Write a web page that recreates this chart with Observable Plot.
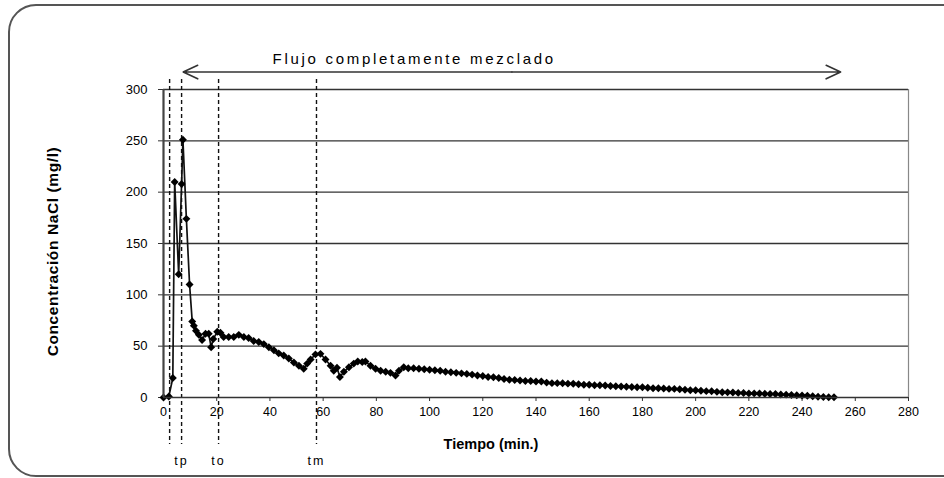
<!DOCTYPE html>
<html><head><meta charset="utf-8">
<script src="https://cdn.jsdelivr.net/npm/d3@7"></script>
<script src="https://cdn.jsdelivr.net/npm/@observablehq/plot@0.6"></script>
<style>
body{margin:0;background:#fff;}
#wrap{position:relative;width:944px;height:478px;overflow:hidden;background:#fff;}
#box{position:absolute;left:8px;top:4px;width:990px;height:473px;border:2px solid #555;border-radius:28px;pointer-events:none;box-sizing:border-box;}
</style></head><body>
<div id="wrap"><div id="chart"></div><div id="box"></div></div>
<script>
// Tiempo (min.)
const times = [0, 2, 3.5, 4.2, 5.7, 6.8, 7.3, 8.6, 9.8, 10.8, 11.4, 12.2, 13.3, 14.5, 15.8, 17, 17.9, 18.7, 20.2, 21.4,
  22.6, 24.5, 26.4, 28.3, 30.2, 32, 33.9, 35.8, 37.7, 39.6, 41.5, 43.3, 45.2, 47.1, 49, 50.9, 52.7, 54, 55.3, 57.1,
  59, 60.9, 62.8, 64, 65.2, 66.3, 67.8, 69.7, 71.5, 73, 74.7, 75.9, 77.8, 79.7, 81.6, 83.5, 85.3, 87.2, 88.5, 90.3,
  92, 94, 96, 98, 100, 102, 104, 106, 108, 110, 112, 114, 116, 118, 120, 122, 124, 126, 128, 130,
  132, 134, 136, 138, 140, 142, 144, 146, 148, 150, 152, 154, 156, 158, 160, 162, 164, 166, 168, 170,
  172, 174, 176, 178, 180, 182, 184, 186, 188, 190, 192, 194, 196, 198, 200, 202, 204, 206, 208, 210,
  212, 214, 216, 218, 220, 222, 224, 226, 228, 230, 232, 234, 236, 238, 240, 242, 244, 246, 248, 250, 252];
// Concentración NaCl (mg/l)
const conc = [0, 1, 19, 210, 120, 208, 251, 174, 110, 74, 70, 65, 61, 56, 62, 62, 49, 57, 64, 63,
  59, 59, 59, 61, 59, 58, 55, 54, 52, 49, 46, 43, 41, 38, 34, 31, 28, 33, 37, 42,
  42.5, 37, 31, 26, 29, 20, 25, 29.5, 33, 35, 34.5, 35, 31, 28, 26, 25, 24, 21.5, 26, 29.5,
  28.5, 28.5, 28, 27.5, 27, 26.5, 26, 25, 24.6, 24, 23.5, 23, 22.3, 21.5, 21, 20, 19.8, 19, 18, 17.3,
  17, 16.5, 16, 16, 15.5, 15.5, 14.5, 14, 14, 13.8, 13.5, 13.3, 13, 12.5, 12.5, 12, 12, 11.7, 11.3, 11,
  10.8, 10.5, 10.3, 10, 10, 9.5, 9, 9, 8.7, 8.4, 8.4, 8, 7.5, 7, 7, 6.5, 6.2, 6, 5.5, 5.2,
  5, 4.8, 4.5, 4.3, 4, 4, 3.8, 3.6, 3.5, 3.4, 3, 2.8, 2.5, 2.2, 2, 1.8, 1.3, 0.8, 0.5, 0.3, 0.3];

const xTicks = [0, 20, 40, 60, 80, 100, 120, 140, 160, 180, 200, 220, 240, 260, 280];
const yTicks = [0, 50, 100, 150, 200, 250, 300];
const markerTimes = [2.3, 6.8, 20.7, 57.5];
const markerLabels = ["", "tp", "to", "tm"];
const arrowRange = [7.4, 254.5];
const arrowLevel = [317];
const arrowText = "Flujo completamente mezclado";
const arrowTextStart = [41];
const arrowTextLevel = [330];
const xLabel = "Tiempo (min.)";
const yLabel = "Concentración NaCl (mg/l)";

const data = times.map((t, i) => ({t, c: conc[i]}));
const arrowMid = (arrowRange[0] + arrowRange[1]) / 2;

// square-ish diamond marker (like the spreadsheet marker)
const diamond = {
  draw(ctx, size) {
    const s = Math.sqrt(size) * 0.66;
    ctx.moveTo(0, -s); ctx.lineTo(s, 0); ctx.lineTo(0, s); ctx.lineTo(-s, 0); ctx.closePath();
  }
};

const chart = Plot.plot({
  width: 944, height: 478,
  marginLeft: 163, marginRight: 36, marginTop: 89, marginBottom: 81,
  x: {domain: [0, 280]},
  y: {domain: [0, 300]},
  style: {fontFamily: "'Liberation Sans', Arial, sans-serif", fontSize: "13px", color: "#000", background: "transparent"},
  marks: [
    Plot.ruleY(yTicks.filter(d => d > 0), {stroke: "#333", strokeWidth: 1.3}),
    Plot.ruleX([xTicks[xTicks.length - 1]], {stroke: "#888", strokeWidth: 1.2}),
    Plot.ruleX(markerTimes, {stroke: "#111", strokeWidth: 1.4, strokeDasharray: "4,3", insetTop: -10, insetBottom: -47}),
    Plot.axisX({ticks: xTicks, tickSize: 4, tickPadding: 6, label: null, fontSize: 12.5, stroke: "#333"}),
    Plot.axisY({ticks: yTicks, tickSize: 5, tickPadding: 11, label: null, fontSize: 13, stroke: "#333"}),
    Plot.line(data, {x: "t", y: "c", stroke: "#111", strokeWidth: 1.7}),
    Plot.dot(data, {x: "t", y: "c", symbol: diamond, r: 3.4, fill: "#000", stroke: "none"}),
    Plot.ruleX([0], {stroke: "#444", strokeWidth: 2.2}),
    Plot.ruleY([0], {stroke: "#333", strokeWidth: 1.6}),
    Plot.text(markerLabels, {x: (d, i) => markerTimes[i], text: d => d, frameAnchor: "bottom", dy: 67, fontSize: 12.5}),
    Plot.arrow(arrowRange, {x1: () => arrowMid, x2: d => d, y1: () => arrowLevel[0], y2: () => arrowLevel[0],
      stroke: "#333", strokeWidth: 1.6, headLength: 15, headAngle: 50}),
    Plot.text([arrowText], {x: () => arrowTextStart[0], y: () => arrowTextLevel[0], textAnchor: "start", fontSize: 15}),
    Plot.text([yLabel], {frameAnchor: "left", textAnchor: "middle", dx: -110, dy: 8, rotate: -90, fontWeight: "bold", fontSize: 15.5,
      fontFamily: "'Liberation Sans Narrow', 'Liberation Sans', Arial, sans-serif"}),
    Plot.text([xLabel], {frameAnchor: "bottom", dx: -45, dy: 51, fontWeight: "bold", fontSize: 14.5})
  ]
});
d3.select(chart).selectAll("text").filter(function() { return this.textContent === arrowText; })
  .attr("letter-spacing", "2.7px");
d3.select(chart).selectAll("text").filter(function() { return ["tp", "to", "tm"].includes(this.textContent); })
  .attr("letter-spacing", "2px");
d3.select(chart).selectAll("text").filter(function() { return this.textContent === yLabel; })
  .attr("letter-spacing", "0.6px");
document.getElementById("chart").appendChild(chart);
</script>
</body></html>
